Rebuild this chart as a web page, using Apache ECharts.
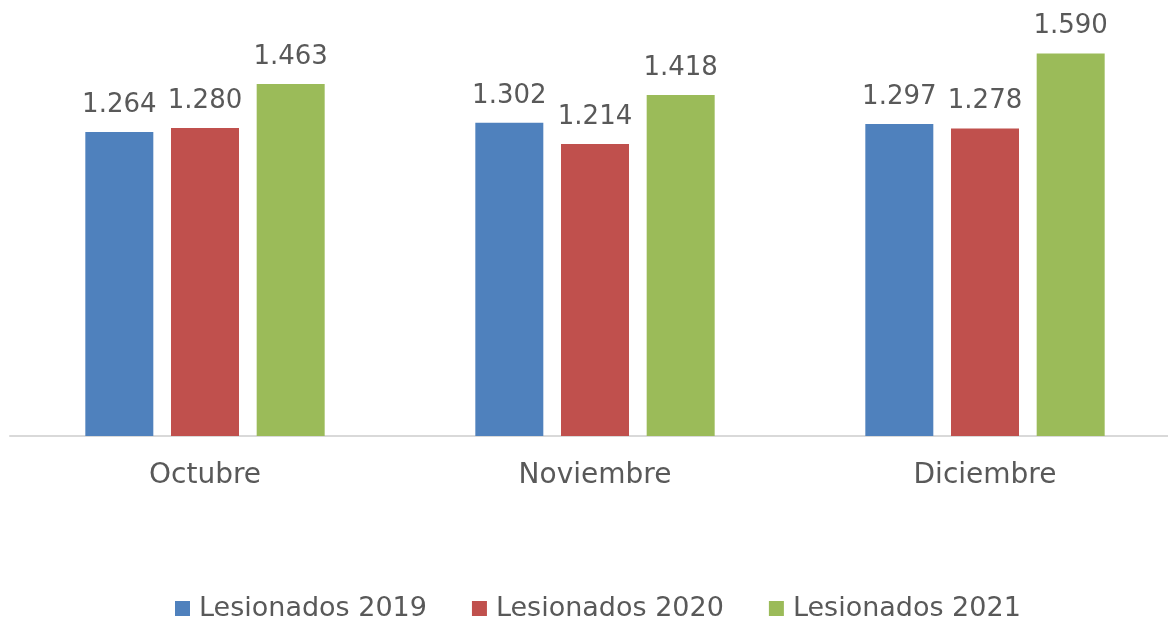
<!DOCTYPE html>
<html>
<head>
<meta charset="utf-8">
<script src="https://cdn.jsdelivr.net/npm/echarts@6/dist/echarts.min.js"></script>
<style>
  html, body { margin: 0; padding: 0; background: #fff; }
  #chart { width: 1168px; height: 621px; }
</style>
</head>
<body>
<div id="chart"></div>
<script>
const months = ["Octubre", "Noviembre", "Diciembre"];
const lesionados2019 = [1264, 1302, 1297];
const lesionados2020 = [1280, 1214, 1278];
const lesionados2021 = [1463, 1418, 1590];
const seriesNames = ["Lesionados 2019", "Lesionados 2020", "Lesionados 2021"];
const colors = ["#4F81BD", "#C0504D", "#9BBB59"];

const font = "DejaVu Sans";
const textColor = "#595959";

// miles con punto: 1264 -> 1.264
const fmt = (v) => String(v).replace(/\B(?=(\d{3})+(?!\d))/g, ".");

const chart = echarts.init(document.getElementById("chart"));
chart.setOption({
  animation: false,
  color: colors,
  grid: { left: 10, width: 1170, top: 3, bottom: 185, outerBoundsMode: "none" },
  legend: {
    top: 590,
    left: 170,
    itemWidth: 15,
    itemHeight: 15,
    itemGap: 45,
    icon: "rect",
    textStyle: { fontFamily: font, fontSize: 27, color: textColor, padding: [0, 0, 0, 4] },
  },
  xAxis: {
    type: "category",
    data: months,
    axisLine: { lineStyle: { color: "#D9D9D9", width: 2 } },
    axisTick: { show: false },
    axisLabel: { fontFamily: font, fontSize: 28, color: textColor, margin: 26 },
  },
  yAxis: {
    type: "value",
    min: 0,
    max: 1800,
    show: false,
  },
  series: [lesionados2019, lesionados2020, lesionados2021].map((vals, i) => ({
    name: seriesNames[i],
    type: "bar",
    data: vals,
    barWidth: 68,
    barGap: "26%",
    label: {
      show: true,
      position: "top",
      distance: 14,
      fontFamily: font,
      fontSize: 26,
      color: textColor,
      formatter: (p) => fmt(p.value),
    },
  })),
});
</script>
</body>
</html>
